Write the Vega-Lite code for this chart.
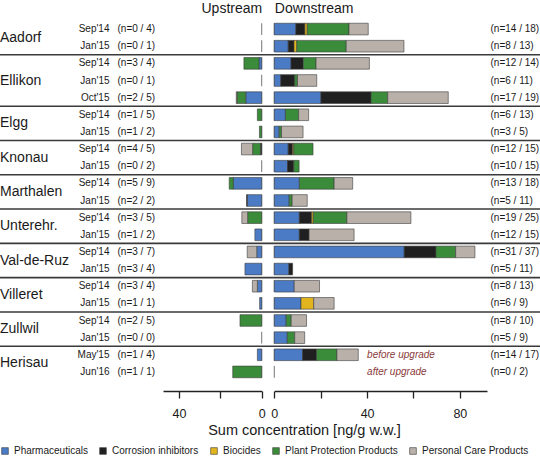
{
  "$schema": "https://vega.github.io/schema/vega-lite/v6.json",
  "width": 540,
  "height": 360,
  "autosize": "none",
  "padding": {"left": 0, "top": 20.5, "right": 0, "bottom": 76.5},
  "config": {
    "font": "Liberation Sans",
    "view": {"stroke": null},
    "axis": {"grid": false},
    "text": {"color": "#1a1a1a"}
  },
  "datasets": {
    "samples": [
      {"sample": "Aadorf Sep'14", "site": "Aadorf", "period": "Sep'14", "nUp": "(n=0 / 4)", "nDown": "(n=14 / 18)"},
      {"sample": "Aadorf Jan'15", "site": "Aadorf", "period": "Jan'15", "nUp": "(n=0 / 1)", "nDown": "(n=8 / 13)"},
      {"sample": "Ellikon Sep'14", "site": "Ellikon", "period": "Sep'14", "nUp": "(n=3 / 4)", "nDown": "(n=12 / 14)"},
      {"sample": "Ellikon Jan'15", "site": "Ellikon", "period": "Jan'15", "nUp": "(n=0 / 1)", "nDown": "(n=6 / 11)"},
      {"sample": "Ellikon Oct'15", "site": "Ellikon", "period": "Oct'15", "nUp": "(n=2 / 5)", "nDown": "(n=17 / 19)"},
      {"sample": "Elgg Sep'14", "site": "Elgg", "period": "Sep'14", "nUp": "(n=1 / 5)", "nDown": "(n=6 / 13)"},
      {"sample": "Elgg Jan'15", "site": "Elgg", "period": "Jan'15", "nUp": "(n=1 / 2)", "nDown": "(n=3 / 5)"},
      {"sample": "Knonau Sep'14", "site": "Knonau", "period": "Sep'14", "nUp": "(n=4 / 5)", "nDown": "(n=12 / 15)"},
      {"sample": "Knonau Jan'15", "site": "Knonau", "period": "Jan'15", "nUp": "(n=0 / 2)", "nDown": "(n=10 / 15)"},
      {"sample": "Marthalen Sep'14", "site": "Marthalen", "period": "Sep'14", "nUp": "(n=5 / 9)", "nDown": "(n=13 / 18)"},
      {"sample": "Marthalen Jan'15", "site": "Marthalen", "period": "Jan'15", "nUp": "(n=2 / 2)", "nDown": "(n=5 / 11)"},
      {"sample": "Unterehr. Sep'14", "site": "Unterehr.", "period": "Sep'14", "nUp": "(n=3 / 5)", "nDown": "(n=19 / 25)"},
      {"sample": "Unterehr. Jan'15", "site": "Unterehr.", "period": "Jan'15", "nUp": "(n=1 / 2)", "nDown": "(n=12 / 15)"},
      {"sample": "Val-de-Ruz Sep'14", "site": "Val-de-Ruz", "period": "Sep'14", "nUp": "(n=3 / 7)", "nDown": "(n=31 / 37)"},
      {"sample": "Val-de-Ruz Jan'15", "site": "Val-de-Ruz", "period": "Jan'15", "nUp": "(n=3 / 4)", "nDown": "(n=5 / 11)"},
      {"sample": "Villeret Sep'14", "site": "Villeret", "period": "Sep'14", "nUp": "(n=3 / 4)", "nDown": "(n=8 / 13)"},
      {"sample": "Villeret Jan'15", "site": "Villeret", "period": "Jan'15", "nUp": "(n=1 / 1)", "nDown": "(n=6 / 9)"},
      {"sample": "Zullwil Sep'14", "site": "Zullwil", "period": "Sep'14", "nUp": "(n=2 / 5)", "nDown": "(n=8 / 10)"},
      {"sample": "Zullwil Jan'15", "site": "Zullwil", "period": "Jan'15", "nUp": "(n=0 / 0)", "nDown": "(n=5 / 9)"},
      {"sample": "Herisau May'15", "site": "Herisau", "period": "May'15", "nUp": "(n=1 / 4)", "nDown": "(n=14 / 17)", "note": "before upgrade"},
      {"sample": "Herisau Jun'16", "site": "Herisau", "period": "Jun'16", "nUp": "(n=1 / 1)", "nDown": "(n=0 / 2)", "note": "after upgrade"}
    ],
    "conc": [
      {"sample": "Ellikon Sep'14", "stream": "Upstream", "class": "Pharmaceuticals", "value": 1.3},
      {"sample": "Ellikon Sep'14", "stream": "Upstream", "class": "Plant Protection Products", "value": 7.3},
      {"sample": "Ellikon Oct'15", "stream": "Upstream", "class": "Pharmaceuticals", "value": 7.7},
      {"sample": "Ellikon Oct'15", "stream": "Upstream", "class": "Plant Protection Products", "value": 4.2},
      {"sample": "Ellikon Oct'15", "stream": "Upstream", "class": "Personal Care Products", "value": 0.4},
      {"sample": "Elgg Sep'14", "stream": "Upstream", "class": "Plant Protection Products", "value": 2.1},
      {"sample": "Elgg Jan'15", "stream": "Upstream", "class": "Plant Protection Products", "value": 1.1},
      {"sample": "Knonau Sep'14", "stream": "Upstream", "class": "Corrosion inhibitors", "value": 0.6},
      {"sample": "Knonau Sep'14", "stream": "Upstream", "class": "Plant Protection Products", "value": 3.8},
      {"sample": "Knonau Sep'14", "stream": "Upstream", "class": "Personal Care Products", "value": 5.4},
      {"sample": "Marthalen Sep'14", "stream": "Upstream", "class": "Pharmaceuticals", "value": 13.7},
      {"sample": "Marthalen Sep'14", "stream": "Upstream", "class": "Plant Protection Products", "value": 2.0},
      {"sample": "Marthalen Jan'15", "stream": "Upstream", "class": "Pharmaceuticals", "value": 7.0},
      {"sample": "Marthalen Jan'15", "stream": "Upstream", "class": "Corrosion inhibitors", "value": 0.3},
      {"sample": "Unterehr. Sep'14", "stream": "Upstream", "class": "Plant Protection Products", "value": 6.8},
      {"sample": "Unterehr. Sep'14", "stream": "Upstream", "class": "Personal Care Products", "value": 2.8},
      {"sample": "Unterehr. Jan'15", "stream": "Upstream", "class": "Pharmaceuticals", "value": 3.3},
      {"sample": "Val-de-Ruz Sep'14", "stream": "Upstream", "class": "Pharmaceuticals", "value": 2.4},
      {"sample": "Val-de-Ruz Sep'14", "stream": "Upstream", "class": "Personal Care Products", "value": 4.6},
      {"sample": "Val-de-Ruz Jan'15", "stream": "Upstream", "class": "Pharmaceuticals", "value": 8.1},
      {"sample": "Villeret Sep'14", "stream": "Upstream", "class": "Pharmaceuticals", "value": 2.1},
      {"sample": "Villeret Sep'14", "stream": "Upstream", "class": "Personal Care Products", "value": 2.4},
      {"sample": "Villeret Jan'15", "stream": "Upstream", "class": "Pharmaceuticals", "value": 1.0},
      {"sample": "Zullwil Sep'14", "stream": "Upstream", "class": "Plant Protection Products", "value": 10.5},
      {"sample": "Herisau May'15", "stream": "Upstream", "class": "Pharmaceuticals", "value": 2.1},
      {"sample": "Herisau Jun'16", "stream": "Upstream", "class": "Plant Protection Products", "value": 14.0},

      {"sample": "Aadorf Sep'14", "stream": "Downstream", "class": "Pharmaceuticals", "value": 9.3},
      {"sample": "Aadorf Sep'14", "stream": "Downstream", "class": "Corrosion inhibitors", "value": 3.9},
      {"sample": "Aadorf Sep'14", "stream": "Downstream", "class": "Biocides", "value": 1.0},
      {"sample": "Aadorf Sep'14", "stream": "Downstream", "class": "Plant Protection Products", "value": 18.0},
      {"sample": "Aadorf Sep'14", "stream": "Downstream", "class": "Personal Care Products", "value": 8.3},
      {"sample": "Aadorf Jan'15", "stream": "Downstream", "class": "Pharmaceuticals", "value": 6.0},
      {"sample": "Aadorf Jan'15", "stream": "Downstream", "class": "Corrosion inhibitors", "value": 2.5},
      {"sample": "Aadorf Jan'15", "stream": "Downstream", "class": "Biocides", "value": 1.2},
      {"sample": "Aadorf Jan'15", "stream": "Downstream", "class": "Plant Protection Products", "value": 21.3},
      {"sample": "Aadorf Jan'15", "stream": "Downstream", "class": "Personal Care Products", "value": 24.9},
      {"sample": "Ellikon Sep'14", "stream": "Downstream", "class": "Pharmaceuticals", "value": 7.2},
      {"sample": "Ellikon Sep'14", "stream": "Downstream", "class": "Corrosion inhibitors", "value": 5.3},
      {"sample": "Ellikon Sep'14", "stream": "Downstream", "class": "Plant Protection Products", "value": 5.5},
      {"sample": "Ellikon Sep'14", "stream": "Downstream", "class": "Personal Care Products", "value": 23.0},
      {"sample": "Ellikon Jan'15", "stream": "Downstream", "class": "Pharmaceuticals", "value": 2.8},
      {"sample": "Ellikon Jan'15", "stream": "Downstream", "class": "Corrosion inhibitors", "value": 6.0},
      {"sample": "Ellikon Jan'15", "stream": "Downstream", "class": "Plant Protection Products", "value": 1.2},
      {"sample": "Ellikon Jan'15", "stream": "Downstream", "class": "Personal Care Products", "value": 8.3},
      {"sample": "Ellikon Oct'15", "stream": "Downstream", "class": "Pharmaceuticals", "value": 20.1},
      {"sample": "Ellikon Oct'15", "stream": "Downstream", "class": "Corrosion inhibitors", "value": 21.6},
      {"sample": "Ellikon Oct'15", "stream": "Downstream", "class": "Plant Protection Products", "value": 7.2},
      {"sample": "Ellikon Oct'15", "stream": "Downstream", "class": "Personal Care Products", "value": 26.1},
      {"sample": "Elgg Sep'14", "stream": "Downstream", "class": "Pharmaceuticals", "value": 4.8},
      {"sample": "Elgg Sep'14", "stream": "Downstream", "class": "Plant Protection Products", "value": 5.7},
      {"sample": "Elgg Sep'14", "stream": "Downstream", "class": "Personal Care Products", "value": 4.3},
      {"sample": "Elgg Jan'15", "stream": "Downstream", "class": "Pharmaceuticals", "value": 2.1},
      {"sample": "Elgg Jan'15", "stream": "Downstream", "class": "Plant Protection Products", "value": 1.0},
      {"sample": "Elgg Jan'15", "stream": "Downstream", "class": "Personal Care Products", "value": 9.3},
      {"sample": "Knonau Sep'14", "stream": "Downstream", "class": "Pharmaceuticals", "value": 6.0},
      {"sample": "Knonau Sep'14", "stream": "Downstream", "class": "Corrosion inhibitors", "value": 1.9},
      {"sample": "Knonau Sep'14", "stream": "Downstream", "class": "Biocides", "value": 0.5},
      {"sample": "Knonau Sep'14", "stream": "Downstream", "class": "Plant Protection Products", "value": 8.3},
      {"sample": "Knonau Jan'15", "stream": "Downstream", "class": "Pharmaceuticals", "value": 5.7},
      {"sample": "Knonau Jan'15", "stream": "Downstream", "class": "Corrosion inhibitors", "value": 2.7},
      {"sample": "Knonau Jan'15", "stream": "Downstream", "class": "Plant Protection Products", "value": 2.3},
      {"sample": "Marthalen Sep'14", "stream": "Downstream", "class": "Pharmaceuticals", "value": 10.8},
      {"sample": "Marthalen Sep'14", "stream": "Downstream", "class": "Plant Protection Products", "value": 15.0},
      {"sample": "Marthalen Sep'14", "stream": "Downstream", "class": "Personal Care Products", "value": 8.0},
      {"sample": "Marthalen Jan'15", "stream": "Downstream", "class": "Pharmaceuticals", "value": 6.4},
      {"sample": "Marthalen Jan'15", "stream": "Downstream", "class": "Plant Protection Products", "value": 1.3},
      {"sample": "Marthalen Jan'15", "stream": "Downstream", "class": "Personal Care Products", "value": 6.5},
      {"sample": "Unterehr. Sep'14", "stream": "Downstream", "class": "Pharmaceuticals", "value": 10.8},
      {"sample": "Unterehr. Sep'14", "stream": "Downstream", "class": "Corrosion inhibitors", "value": 5.3},
      {"sample": "Unterehr. Sep'14", "stream": "Downstream", "class": "Biocides", "value": 0.7},
      {"sample": "Unterehr. Sep'14", "stream": "Downstream", "class": "Plant Protection Products", "value": 14.5},
      {"sample": "Unterehr. Sep'14", "stream": "Downstream", "class": "Personal Care Products", "value": 27.6},
      {"sample": "Unterehr. Jan'15", "stream": "Downstream", "class": "Pharmaceuticals", "value": 10.8},
      {"sample": "Unterehr. Jan'15", "stream": "Downstream", "class": "Corrosion inhibitors", "value": 4.2},
      {"sample": "Unterehr. Jan'15", "stream": "Downstream", "class": "Personal Care Products", "value": 19.4},
      {"sample": "Val-de-Ruz Sep'14", "stream": "Downstream", "class": "Pharmaceuticals", "value": 56.0},
      {"sample": "Val-de-Ruz Sep'14", "stream": "Downstream", "class": "Corrosion inhibitors", "value": 13.7},
      {"sample": "Val-de-Ruz Sep'14", "stream": "Downstream", "class": "Plant Protection Products", "value": 8.5},
      {"sample": "Val-de-Ruz Sep'14", "stream": "Downstream", "class": "Personal Care Products", "value": 8.3},
      {"sample": "Val-de-Ruz Jan'15", "stream": "Downstream", "class": "Pharmaceuticals", "value": 6.3},
      {"sample": "Val-de-Ruz Jan'15", "stream": "Downstream", "class": "Corrosion inhibitors", "value": 1.6},
      {"sample": "Villeret Sep'14", "stream": "Downstream", "class": "Pharmaceuticals", "value": 8.6},
      {"sample": "Villeret Sep'14", "stream": "Downstream", "class": "Personal Care Products", "value": 10.9},
      {"sample": "Villeret Jan'15", "stream": "Downstream", "class": "Pharmaceuticals", "value": 11.5},
      {"sample": "Villeret Jan'15", "stream": "Downstream", "class": "Biocides", "value": 5.5},
      {"sample": "Villeret Jan'15", "stream": "Downstream", "class": "Personal Care Products", "value": 8.8},
      {"sample": "Zullwil Sep'14", "stream": "Downstream", "class": "Pharmaceuticals", "value": 5.1},
      {"sample": "Zullwil Sep'14", "stream": "Downstream", "class": "Plant Protection Products", "value": 2.2},
      {"sample": "Zullwil Sep'14", "stream": "Downstream", "class": "Personal Care Products", "value": 6.6},
      {"sample": "Zullwil Jan'15", "stream": "Downstream", "class": "Pharmaceuticals", "value": 5.6},
      {"sample": "Zullwil Jan'15", "stream": "Downstream", "class": "Plant Protection Products", "value": 3.2},
      {"sample": "Zullwil Jan'15", "stream": "Downstream", "class": "Personal Care Products", "value": 4.3},
      {"sample": "Herisau May'15", "stream": "Downstream", "class": "Pharmaceuticals", "value": 12.2},
      {"sample": "Herisau May'15", "stream": "Downstream", "class": "Corrosion inhibitors", "value": 6.0},
      {"sample": "Herisau May'15", "stream": "Downstream", "class": "Plant Protection Products", "value": 8.8},
      {"sample": "Herisau May'15", "stream": "Downstream", "class": "Personal Care Products", "value": 9.2}
    ]
  },
  "data": {"name": "conc"},
  "transform": [
    {"lookup": "sample", "from": {"data": {"name": "samples"}, "key": "sample", "fields": ["site", "period", "nUp", "nDown"]}},
    {"calculate": "datum.site + '|' + datum.period + '|' + datum.nUp + '|' + datum.nDown", "as": "row"},
    {"calculate": "indexof(['Pharmaceuticals', 'Corrosion inhibitors', 'Biocides', 'Plant Protection Products', 'Personal Care Products'], datum.class)", "as": "classOrder"}
  ],
  "layer": [
    {
      "data": {"name": "samples"},
      "transform": [{"calculate": "datum.site + '|' + datum.period + '|' + datum.nUp + '|' + datum.nDown", "as": "row"}],
      "mark": {"type": "tick", "thickness": 1, "size": 11.7, "color": "#3c3c3c"},
      "encoding": {
        "y": {
          "field": "row", "type": "nominal", "sort": null,
          "scale": {"paddingInner": 0, "paddingOuter": 0},
          "axis": {"orient": "left", "offset": -109, "title": null, "domain": false, "ticks": false, "tickSize": 0, "labelPadding": 0, "labelAlign": "right", "labelBaseline": "middle", "labelFontSize": 10, "labelColor": "#1a1a1a", "labelExpr": "split(datum.label, '|')[1]"}
        },
        "x": {
          "datum": 0, "type": "quantitative",
          "scale": {"domain": [0, 47.7], "range": [261.7, 163], "nice": false},
          "axis": {"orient": "top", "domain": false, "ticks": false, "labels": false, "title": "Upstream", "titleFontSize": 14, "titleFontWeight": "normal", "titleColor": "#1a1a1a", "titleX": 261.7, "titleY": -8.2, "titleAlign": "right", "titleBaseline": "alphabetic"}
        }
      }
    },
    {
      "data": {"name": "samples"},
      "transform": [{"calculate": "datum.site + '|' + datum.period + '|' + datum.nUp + '|' + datum.nDown", "as": "row"}],
      "mark": {"type": "tick", "thickness": 1, "size": 11.7, "color": "#3c3c3c"},
      "encoding": {
        "y": {
          "field": "row", "type": "nominal", "sort": null,
          "axis": {"orient": "right", "offset": -50, "title": null, "domain": false, "ticks": false, "tickSize": 0, "labelPadding": 0, "labelAlign": "left", "labelBaseline": "middle", "labelFontSize": 10, "labelColor": "#1a1a1a", "labelExpr": "split(datum.label, '|')[3]"}
        },
        "x": {
          "datum": 0, "type": "quantitative",
          "scale": {"domain": [0, 91.7], "range": [274.3, 487], "nice": false},
          "axis": {"orient": "top", "domain": false, "ticks": false, "labels": false, "title": "Downstream", "titleFontSize": 14, "titleFontWeight": "normal", "titleColor": "#1a1a1a", "titleX": 274.3, "titleY": -8.2, "titleAlign": "left", "titleBaseline": "alphabetic"}
        }
      }
    },
    {
      "transform": [{"filter": "datum.stream == 'Upstream'"}],
      "mark": {"type": "bar", "height": {"band": 0.68}, "stroke": "#3c3c3c", "strokeWidth": 0.6},
      "encoding": {
        "y": {
          "field": "row", "type": "nominal", "sort": null,
          "axis": {"orient": "left", "offset": -117, "title": null, "domain": false, "ticks": false, "tickSize": 0, "labelPadding": 0, "labelAlign": "left", "labelBaseline": "middle", "labelFontSize": 10, "labelColor": "#1a1a1a", "labelExpr": "split(datum.label, '|')[2]"}
        },
        "x": {
          "field": "value", "type": "quantitative", "stack": "zero",
          "scale": {"domain": [0, 47.7], "range": [261.7, 163], "nice": false},
          "axis": {"orient": "bottom", "offset": 10.5, "values": [0, 20, 40], "labelExpr": "datum.value == 20 ? '' : datum.label", "domainColor": "#222222", "domainWidth": 1.3, "tickSize": 7, "tickWidth": 1.3, "tickColor": "#222222", "labelPadding": 9, "labelFontSize": 12.5, "labelColor": "#1a1a1a", "labelFlush": false, "labelOverlap": false, "title": null}
        },
        "color": {
          "field": "class", "type": "nominal",
          "scale": {
            "domain": ["Pharmaceuticals", "Corrosion inhibitors", "Biocides", "Plant Protection Products", "Personal Care Products"],
            "range": ["#4b7bc5", "#202020", "#e2b41d", "#3a8b3a", "#b9b0aa"]
          },
          "legend": {"orient": "none", "legendX": 0, "legendY": 425.5, "direction": "horizontal", "title": null, "symbolType": "square", "symbolSize": 45, "symbolStrokeColor": "#999999", "symbolStrokeWidth": 0.6, "labelFontSize": 10, "labelColor": "#1a1a1a", "labelOffset": 4, "columnPadding": 10}
        },
        "order": {"field": "classOrder", "type": "quantitative"}
      }
    },
    {
      "transform": [{"filter": "datum.stream == 'Downstream'"}],
      "mark": {"type": "bar", "height": {"band": 0.68}, "stroke": "#3c3c3c", "strokeWidth": 0.6},
      "encoding": {
        "y": {"field": "row", "type": "nominal", "sort": null, "axis": null},
        "x": {
          "field": "value", "type": "quantitative", "stack": "zero",
          "scale": {"domain": [0, 91.7], "range": [274.3, 487], "nice": false},
          "axis": {"orient": "bottom", "offset": 10.5, "values": [0, 20, 40, 60, 80], "labelExpr": "datum.value % 40 == 0 ? datum.label : ''", "domainColor": "#222222", "domainWidth": 1.3, "tickSize": 7, "tickWidth": 1.3, "tickColor": "#222222", "labelPadding": 9, "labelFontSize": 12.5, "labelColor": "#1a1a1a", "labelFlush": false, "labelOverlap": false, "title": "Sum concentration [ng/g w.w.]", "titleFontSize": 14.5, "titleFontWeight": "normal", "titleColor": "#1a1a1a", "titleX": 304, "titleY": 43, "titleAlign": "center", "titleBaseline": "alphabetic"}
        },
        "color": {"field": "class", "type": "nominal"},
        "order": {"field": "classOrder", "type": "quantitative"}
      }
    },
    {
      "data": {"name": "samples"},
      "transform": [
        {"filter": "datum.note != null"},
        {"calculate": "datum.site + '|' + datum.period + '|' + datum.nUp + '|' + datum.nDown", "as": "row"}
      ],
      "mark": {"type": "text", "align": "left", "baseline": "middle", "fontSize": 10, "fontStyle": "italic", "color": "#8b3a3a"},
      "encoding": {
        "text": {"field": "note"},
        "x": {"datum": 40, "type": "quantitative", "scale": {"domain": [0, 91.7], "range": [274.3, 487], "nice": false}, "axis": null},
        "y": {"field": "row", "type": "nominal", "sort": null, "axis": null}
      }
    },
    {
      "data": {"name": "samples"},
      "transform": [
        {"calculate": "datum.site + '|' + datum.period + '|' + datum.nUp + '|' + datum.nDown", "as": "row"},
        {"window": [{"op": "row_number", "as": "g"}]},
        {"window": [{"op": "row_number", "as": "i"}], "groupby": ["site"]},
        {"filter": "datum.i == 1 && datum.g > 1"}
      ],
      "mark": {"type": "rule", "color": "#3a3a3a", "strokeWidth": 1.6},
      "encoding": {
        "y": {"field": "row", "type": "nominal", "sort": null, "bandPosition": 0, "axis": null}
      }
    },
    {
      "data": {"name": "samples"},
      "transform": [
        {"calculate": "datum.site + '|' + datum.period + '|' + datum.nUp + '|' + datum.nDown", "as": "row"},
        {"window": [{"op": "row_number", "as": "i"}], "groupby": ["site"]},
        {"joinaggregate": [{"op": "count", "as": "n"}], "groupby": ["site"]},
        {"filter": "datum.n % 2 == 0 && datum.i == datum.n / 2"}
      ],
      "mark": {"type": "text", "align": "left", "baseline": "middle", "fontSize": 14},
      "encoding": {
        "text": {"field": "site"},
        "y": {"field": "row", "type": "nominal", "sort": null, "bandPosition": 1, "axis": null},
        "x": {"datum": 0, "type": "quantitative", "scale": {"domain": [0, 1], "nice": false}, "axis": null}
      }
    },
    {
      "data": {"name": "samples"},
      "transform": [
        {"calculate": "datum.site + '|' + datum.period + '|' + datum.nUp + '|' + datum.nDown", "as": "row"},
        {"window": [{"op": "row_number", "as": "i"}], "groupby": ["site"]},
        {"joinaggregate": [{"op": "count", "as": "n"}], "groupby": ["site"]},
        {"filter": "datum.n % 2 == 1 && datum.i == (datum.n + 1) / 2"}
      ],
      "mark": {"type": "text", "align": "left", "baseline": "middle", "fontSize": 14},
      "encoding": {
        "text": {"field": "site"},
        "y": {"field": "row", "type": "nominal", "sort": null, "bandPosition": 0.5, "axis": null},
        "x": {"datum": 0, "type": "quantitative", "scale": {"domain": [0, 1], "nice": false}, "axis": null}
      }
    }
  ],
  "resolve": {"scale": {"x": "independent"}, "axis": {"x": "independent", "y": "independent"}}
}
